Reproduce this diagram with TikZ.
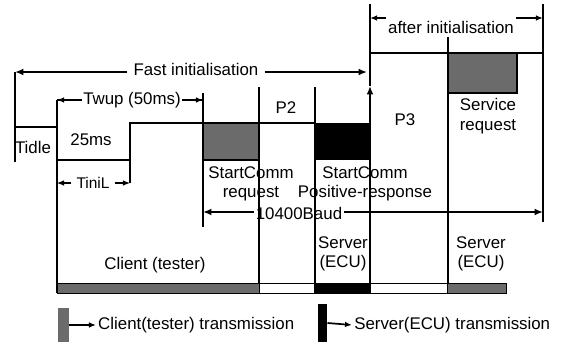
\documentclass[tikz,border=0pt]{standalone}
\usepackage{fontspec}
\setsansfont{Liberation Sans}
\usetikzlibrary{arrows.meta}
\definecolor{Dots}{rgb}{0.42, 0.42, 0.42}

\tikzset{
  timearrow/.style={-{Latex[length=6pt,width=5pt]}},
  smallarrow/.style={-{Latex[length=5pt,width=4pt]}},
  label/.style={inner sep=1pt, align=center}
}

\begin{document}
\begin{tikzpicture}[x=0.25cm, y=-0.25cm, font=\sffamily\large, line width=1.2pt]

  \useasboundingbox (0,0) rectangle (56.3,34.5);

  % -------------------------------------------------------
  % Phase arrows at the top
  % -------------------------------------------------------
  \coordinate (fiL) at (1.5,7.2);
  \coordinate (fiR) at (36.7,7.2);
  \node[inner sep=4pt] (fast) at (19.6,6.9) {Fast initialisation};
  \draw[timearrow] (fast.west |- fiL) -- (fiL);
  \draw[timearrow] (fast.east |- fiR) -- (fiR);

  \coordinate (aiL) at (37.0,1.8);
  \coordinate (aiR) at (54.3,1.8);
  \node[label] (after) at (45.1,2.7) {after initialisation};
  \draw[smallarrow] (after.west |- aiL) -- (aiL);
  \draw[smallarrow] (after.east |- aiR) -- (aiR);

  % -------------------------------------------------------
  % Signal level
  % -------------------------------------------------------
  % Tidle (high) then TiniL (low) then high again
  \draw (1.5,7.2) -- (1.5,16.2);
  \draw (1.5,12.7) -- (5.7,12.7);
  \draw (5.7,10.0) -- (5.7,29.3);
  \draw (5.7,16.0) -- (13.0,16.0);
  \draw (13.0,18.3) -- (13.0,12.3) -- (31.5,12.3);

  % StartComm request (client)
  \fill[Dots] (20.3,12.3) rectangle (25.9,16.0);
  \draw (20.3,12.3) rectangle (25.9,16.0);
  % StartComm positive response (server)
  \fill[black] (31.5,12.3) rectangle (37.0,16.0);

  % after initialisation level
  \draw (37.0,5.3) -- (54.3,5.3);
  \fill[Dots] (44.8,5.3) rectangle (51.7,9.3);
  \draw (44.8,5.3) rectangle (51.7,9.3);

  % Vertical markers
  \draw (20.3,9.3) -- (20.3,22.7);
  \draw (25.9,8.7) -- (25.9,29.3);
  \draw (31.5,8.7) -- (31.5,29.3);
  \draw[timearrow] (37.0,29.3) -- (37.0,8.6);
  \draw (37.0,8.6) -- (37.0,0.4);
  \draw (44.8,3.7) -- (44.8,29.3);
  \draw (54.3,0.4) -- (54.3,22.2);

  % -------------------------------------------------------
  % Timing annotations
  % -------------------------------------------------------
  \coordinate (twL) at (5.7,10.0);
  \coordinate (twR) at (20.3,10.0);
  \draw[smallarrow] (twR) -- (twL);
  \draw[smallarrow] (twL) -- (twR);
  \node[label, fill=white] (twup) at (13.2,10.0) {Twup (50ms)};

  \coordinate (tiL) at (5.7,18.3);
  \coordinate (tiR) at (13.0,18.3);
  \node[label, inner sep=3pt, font=\sffamily\fontsize{11}{13}\selectfont]
    (tiniL) at (9.3,18.3) {TiniL};
  \draw[smallarrow, line width=0.8pt] (tiniL.west) -- (tiL);
  \draw[smallarrow, line width=0.8pt] (tiniL.east) -- (tiR);

  \node[label] (idle) at (3.3,14.7) {Tidle};
  \node[label] (wait25) at (9.1,14.0) {25ms};
  \node[label] (ptwo) at (28.6,10.8) {P2};
  \node[label] (pthree) at (40.5,12.0) {P3};
  \node[label] (servReq) at (48.8,11.6) {Service\\request};

  \node[label] (reqTxt) at (25.1,18.4) {StartComm\\request};
  \node[label] (respTxt) at (36.5,18.4) {StartComm\\Positive-response};

  \coordinate (bdL) at (20.3,21.2);
  \coordinate (bdR) at (54.3,21.2);
  \node[label] (baud) at (29.9,21.3) {10400Baud};
  \draw[timearrow] (baud.west |- bdL) -- (bdL);
  \draw[timearrow] (baud.east |- bdR) -- (bdR);

  % -------------------------------------------------------
  % Transmission bar
  % -------------------------------------------------------
  \node[label] (client) at (15.5,26.5) {Client (tester)};
  \node[label] (ecuA) at (34.3,25.4) {Server\\(ECU)};
  \node[label] (ecuB) at (48.1,25.4) {Server\\(ECU)};

  \fill[Dots] (5.7,28.3) rectangle (25.9,29.3);
  \fill[black] (31.5,28.3) rectangle (37.0,29.3);
  \fill[Dots] (44.8,28.3) rectangle (50.6,29.3);
  \draw[line width=0.7pt] (5.7,28.3) rectangle (50.6,29.3);

  % -------------------------------------------------------
  % Legend
  % -------------------------------------------------------
  \node[fill=Dots, inner sep=0pt, minimum width=0.27cm, minimum height=0.85cm,
    anchor=west] (keyClient) at (5.7,32.5) {};
  \node[anchor=west, inner sep=1pt] (keyClientTxt) at (9.6,32.5)
    {Client(tester) transmission};
  \draw[smallarrow] (keyClient.east) -- (keyClientTxt.west);

  \node[fill=black, inner sep=0pt, minimum width=0.22cm, minimum height=0.95cm,
    anchor=west] (keyServer) at (31.7,32.3) {};
  \node[anchor=west, inner sep=1pt] (keyServerTxt) at (35.2,32.5)
    {Server(ECU) transmission};
  \draw[smallarrow] (keyServer.east) -- (keyServerTxt.west);

\end{tikzpicture}
\end{document}
